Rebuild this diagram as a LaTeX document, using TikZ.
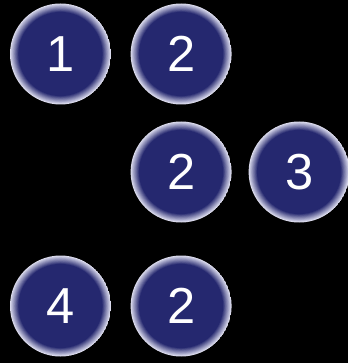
\documentclass[tikz,border=0pt]{standalone}
\usepackage{fontspec}
\setmainfont{Liberation Sans}
\usetikzlibrary{positioning}

\definecolor{ballnavy}{HTML}{25286F}
\definecolor{ballrim}{HTML}{DCDCEE}

\begin{document}
\begin{tikzpicture}[
  numball/.style={circle, minimum size=2.525cm, inner sep=0pt, outer sep=0pt,
    text=white, font=\fontsize{36}{42}\selectfont,
    path picture={
      \foreach \k [evaluate=\k as \pct using int(\k*10)] in {0,...,10}
        \fill[ballnavy!\pct!ballrim] (path picture bounding box.center)
          circle ({1.2625cm-\k*0.021cm});
    }}
]
\fill[black] (0,0) rectangle (8.7,-9.075);
\useasboundingbox (0,0) rectangle (8.7,-9.075);

\node[numball] (N1) at (1.5125,-1.35) {1};
\node[numball, right=0.49cm of N1] (N2a) {2};
\node[numball, below=0.425cm of N2a] (N2b) {2};
\node[numball, right=0.425cm of N2b] (N3) {3};
\node[numball, below=0.825cm of N2b] (N2c) {2};
\node[numball, left=0.49cm of N2c] (N4) {4};
\end{tikzpicture}
\end{document}
